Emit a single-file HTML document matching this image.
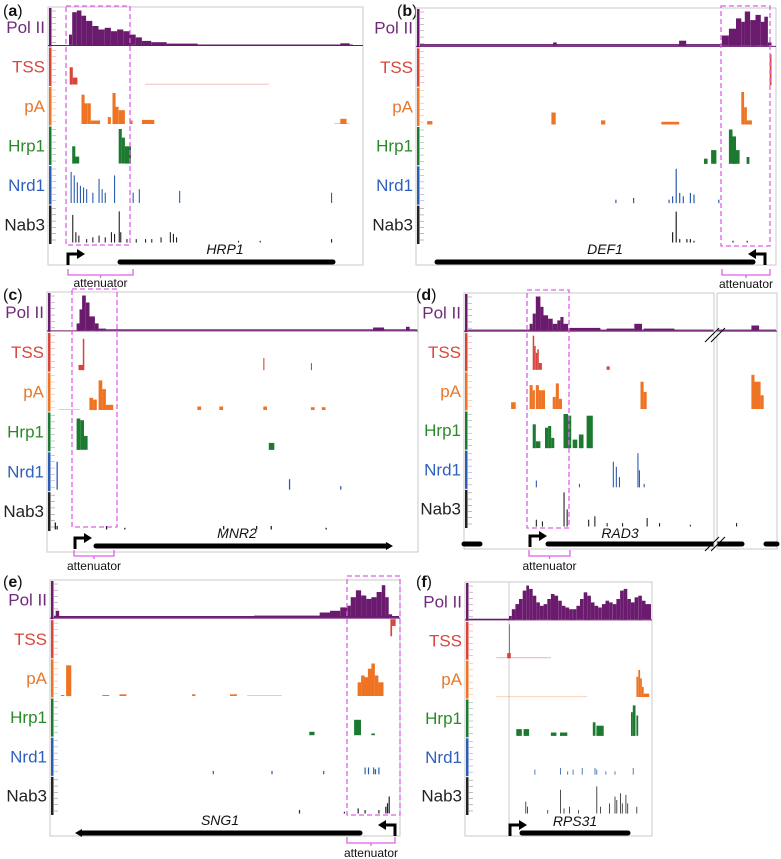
<!DOCTYPE html>
<html><head><meta charset="utf-8"><style>
html,body{margin:0;padding:0;background:#fff;}
svg{display:block;font-family:"Liberation Sans",sans-serif;}
</style></head><body>
<svg id="fig" width="781" height="859" viewBox="0 0 781 859" xmlns="http://www.w3.org/2000/svg"></svg>
<script>
// ---- data: peaks as [position(0-100 of window), relative height, width] ----
const aPol=[[5.5,0.3,1],[6.5,0.95,1.5],[8,1,1.5],[9.5,0.85,1.5],[11,0.7,2],[13,0.55,2],[15,0.45,2],[17,0.5,2],[19,0.4,2],[21,0.45,2],[23,0.4,2],[25,0.3,2],[27,0.22,2],[29,0.12,3],[32,0.08,5],[37,0.04,10],[47,0.015,50],[93,0.05,3]];
const aTss=[[5.7,0.5,1],[6.7,0.2,1.5],[30,0.02,40]];
const aPa=[[9.5,0.85,1],[10.5,0.6,1],[11.5,0.6,1],[12.5,0.1,3],[18,0.2,1],[19.5,0.9,1],[20.5,0.5,1],[21.5,0.4,2],[25,0.1,1],[29,0.12,4],[93,0.15,2],[91,0.03,5]];
const aHrp=[[6.5,0.5,1],[7.3,0.2,1.5],[21.5,1,1],[22.5,0.75,1],[23.5,0.5,2]];
const aNrd=[[6,0.9],[7,0.8],[8,0.6],[9,0.5],[10,0.45],[11,0.4],[13,0.3],[15,0.7],[16,0.4],[17,0.3],[20,0.8],[26,0.3],[28,0.4],[41,0.35],[90,0.3]];
const aNab=[[6.5,0.8],[7.5,0.3],[8.5,0.2],[11,0.1],[13,0.15],[15,0.2],[17,0.15],[19,0.3],[20,0.25],[21.5,0.9],[22,0.3],[24,0.1],[27,0.1],[30,0.1],[32,0.1],[35,0.15],[38,0.3],[39,0.25],[40,0.15],[60,0.05],[67,0.05],[90,0.1]];

const bPol=[[0,0.05,85],[37.5,0.1,1],[73,0.15,2],[85,0.3,2],[87,0.5,2],[89,0.8,1.5],[90.5,0.7,1],[91.5,1,1.5],[93,0.75,1.5],[94.5,0.9,1.5],[96,0.7,1.5],[97,0.85,1],[98,0.1,1]];
const bTss=[[98.5,0.9,0.5]];
const bPa=[[2,0.1,1.5],[37,0.35,1.2],[51,0.12,1.2],[68,0.08,5],[90.5,0.95,0.8],[91.3,0.5,0.8],[92,0.12,1.5]];
const bHrp=[[80,0.15,1],[82,0.4,1.5],[87,1,1],[88,0.8,1],[89,0.4,1],[92,0.2,0.8]];
const bNrd=[[55,0.1],[60,0.15],[70,0.1],[71,0.2],[72,1],[73,0.3],[74,0.2],[76,0.3],[77,0.25],[84,0.1]];
const bNab=[[71,0.3],[72,0.9],[73,0.1],[75,0.1],[76,0.1],[77,0.05],[88,0.05],[92,0.05]];

const cPol=[[7,0.2,1],[7.8,0.6,1],[8.5,1,1],[9.5,0.8,1],[10.5,0.4,1.5],[12,0.2,1],[13,0.05,2],[15,0.03,85],[88,0.08,3],[97,0.1,1]];
const cTss=[[8.7,0.9,0.4],[7.5,0.15,1.5],[58,0.35,0.3],[71,0.2,0.3]];
const cPa=[[2,0.03,6],[10.5,0.35,1],[11.5,0.3,1],[13,0.85,1],[14,0.6,1],[15,0.15,2],[40,0.1,1],[46,0.1,1],[58,0.1,1],[71,0.08,1],[74,0.08,1]];
const cHrp=[[7,0.9,1],[8,0.85,1],[9,0.4,1],[59.5,0.2,1.5]];
const cNrd=[[1.5,0.8],[65,0.3],[79,0.1]];
const cNab=[[1,0.2],[1.5,0.1],[15,0.1],[20,0.05],[47,0.1],[56,0.1],[60,0.1],[75,0.05]];

const dPol=[[0,0.03,100],[20,0.2,1],[21,0.5,1],[22,1,1.5],[23.5,0.7,1],[24.5,0.45,1.5],[26,0.35,1.5],[27.5,0.2,1.5],[29,0.3,1],[30,0.4,1],[31,0.2,1.5],[33,0.08,10],[45,0.06,9],[54,0.2,2.5],[57,0.06,10],[92,0.15,2.5]];
const dTss=[[21,1,0.5],[21.5,0.7,0.5],[22,0.5,0.5],[22.5,0.6,0.5],[23,0.2,1],[45,0.1,1]];
const dPa=[[14,0.2,1.5],[20,0.7,1],[21,0.55,0.7],[22,0.7,1],[23,0.55,1],[24,0.55,1],[27.5,0.35,1],[28.5,0.75,1],[29.5,0.3,1],[56,0.8,1],[57,0.5,1],[92,1,1],[93,0.8,1],[94,0.8,1],[95,0.4,1]];
const dHrp=[[21,0.7,1],[22,0.2,1.5],[25,0.6,1],[26,0.65,1],[27,0.3,1],[31,1,1.5],[32.5,0.95,1],[34,0.25,1.5],[36,0.4,1.5],[38.5,0.95,2]];
const dNrd=[[22,0.2],[36,0.1],[47,0.75],[48,0.6],[49,0.3],[55,1],[55.5,0.5],[57,0.1]];
const dNab=[[22,0.2],[24,0.15],[31,1],[32,0.5],[39,0.2],[41,0.3],[45,0.1],[50,0.1],[58,0.25],[62,0.1],[72,0.05],[87,0.1]];

const ePol=[[0,0.05,100],[0.5,0.2,1],[58,0.06,20],[77,0.15,3],[80,0.2,3],[83,0.3,2],[85,0.35,1],[86,0.6,1.5],[87.5,0.8,1.5],[89,0.65,1.5],[90.5,0.55,1.5],[92,0.6,1.5],[93.5,0.75,1.5],[95,0.95,1],[96,0.6,1],[97,0.1,1]];
const eTss=[[97.5,-0.5,0.5],[98,-0.2,1]];
const ePa=[[3.5,0.9,1.5],[2,0.03,1],[14,0.03,2],[19,0.05,2],[40,0.05,1],[51,0.05,2],[56,0.03,10],[88,0.4,1],[89,0.6,1],[90,0.55,1],[91,0.8,1.2],[92,0.95,1],[93,0.6,1],[94,0.4,1.5]];
const eHrp=[[74,0.1,1.5],[87,0.45,2],[92,0.05,1]];
const eNrd=[[46,0.1],[63,0.1],[78,0.1],[90,0.2],[91,0.2],[92.5,0.2],[93,0.15],[94,0.2]];
const eNab=[[71,0.1],[84,0.05],[88,0.15],[90,0.1],[94,0.1],[96,0.2],[97,0.5],[96.5,0.3]];

const fPol=[[0,0.02,22],[22,0.1,1.5],[23.5,0.3,2],[25.5,0.45,2],[27.5,0.6,2],[29.5,0.85,2],[31.5,1,1.5],[33,0.9,2],[35,0.7,2],[37,0.5,2],[39,0.4,2],[41,0.45,2],[43,0.6,2],[45,0.75,2],[47,0.7,2],[49,0.55,2],[51,0.4,2],[53,0.35,2],[55,0.3,2],[57,0.3,2],[59,0.4,2],[61,0.6,2],[63,0.8,2],[65,0.7,2],[67,0.5,2],[69,0.4,2],[71,0.35,2],[73,0.45,2],[75,0.55,2],[77,0.5,2],[79,0.45,2],[81,0.6,2],[83,0.85,2],[85,0.9,2],[87,0.6,2],[89,0.5,2],[91,0.65,2],[93,0.7,2],[95,0.55,2],[97,0.45,3]];
const fTss=[[22,1,0.5],[21,0.15,2],[15,0.03,30]];
const fPa=[[92,0.6,1],[93,0.8,1],[94,0.55,1],[95,0.3,1],[96,0.1,3],[15,0.02,50]];
const fHrp=[[26,0.2,3],[30,0.2,3],[45,0.1,3],[50,0.1,4],[68,0.4,1.5],[70,0.3,4],[89,0.7,1],[90,0.9,1.5],[92,0.6,1]];
const fNrd=[[36,0.15],[50,0.2],[54,0.1],[57,0.15],[62,0.2],[69,0.2],[70,0.15],[75,0.1],[80,0.1],[90,0.2]];
const fNab=[[31,0.35],[32,0.2],[43,0.1],[50,0.7],[52,0.15],[55,0.2],[60,0.1],[70,0.8],[72,0.2],[77,0.3],[80,0.5],[81,0.4],[83,0.6],[84,0.3],[86,0.55],[87,0.3],[92,0.2]];

const trackNames=["Pol II","TSS","pA","Hrp1","Nrd1","Nab3"];
const trackColors=["#6a1b6e","#d8433a","#ee7424","#1c7a30","#2c5cb0","#222222"];
const labelColors=["#6f2a7c","#d8463c","#e8782c","#2a8a2a","#2f5fc0","#222222"];

const NS="http://www.w3.org/2000/svg";
const svg=document.getElementById("fig");
function mk(p,tag,attrs){const e=document.createElementNS(NS,tag);for(const k in attrs)e.setAttribute(k,attrs[k]);p.appendChild(e);return e;}

const panels=[
 {id:"a",lx:3,ly:16,x0:48,x1:363,y0:7,y1:265,tracks:[aPol,aTss,aPa,aHrp,aNrd,aNab],dash:[66,130,6,245],gene:"HRP1",gx:225,gy:254,bars:[[120,333]],barY:262,head:0,prom:[68,1],br:[68,133,275,287]},
 {id:"b",lx:397,ly:16,x0:416,x1:776,y0:8,y1:265,tracks:[bPol,bTss,bPa,bHrp,bNrd,bNab],dash:[721,770,6,246],gene:"DEF1",gx:605,gy:254,bars:[[437,753]],barY:262,head:0,prom:[765,-1],br:[722,770,275,288]},
 {id:"c",lx:3,ly:300,x0:47,x1:418,y0:292,y1:552,tracks:[cPol,cTss,cPa,cHrp,cNrd,cNab],dash:[72,117,289,527],gene:"MNR2",gx:237,gy:538,bars:[[96,388]],barY:546,head:1,prom:[75,1],br:[74,114,556,570]},
 {id:"d",lx:416,ly:300,x0:464,x1:777,y0:293,y1:549,tracks:[dPol,dTss,dPa,dHrp,dNrd,dNab],dash:[527,569,290,528],gene:"RAD3",gx:620,gy:538,bars:[[464,480],[548,714],[717,742],[766,777]],barY:544,head:0,prom:[530,1],br:[529,570,556,570],brk:[714,717]},
 {id:"e",lx:3,ly:587,x0:50,x1:400,y0:580,y1:836,tracks:[ePol,eTss,ePa,eHrp,eNrd,eNab],dash:[347,400,576,815],gene:"SNG1",gx:220,gy:825,bars:[[80,360]],barY:833,head:-1,prom:[395,-1],br:[347,395,843,857]},
 {id:"f",lx:416,ly:587,x0:465,x1:652,y0:582,y1:836,tracks:[fPol,fTss,fPa,fHrp,fNrd,fNab],dash:null,gene:"RPS31",gx:575,gy:826,bars:[[522,628]],barY:833,head:0,prom:[510,1],br:null,vline:509}
];

panels.forEach(P=>{
 const g=mk(svg,"g",{});
 
 
 const letter=mk(g,"text",{x:P.lx,y:P.ly,"font-size":"16",fill:"#111"});
 
 
 letter.innerHTML='(<tspan font-weight="bold">'+P.id+'</tspan>)';
 const box=mk(g,"rect",{x:P.x0,y:P.y0,width:P.x1-P.x0,height:P.y1-P.y0,fill:"none",stroke:"#c8c8c8","stroke-width":"1"});
 
 
 const W=P.x1-P.x0;
 const th=(P.y1-P.y0-21)/6;
 const xs=v=>P.x0+4+v/100*(W-5);
 if(P.vline){const vl=mk(g,"line",{x1:P.vline,x2:P.vline,y1:P.y0,y2:P.y1-12,stroke:"#ccc","stroke-width":"1"});
  
  }
 P.tracks.forEach((data,i)=>{
  const top=P.y0+i*th, base=top+th-1.5, H=th-5;
  const col=trackColors[i];
  const ax=mk(g,"rect",{x:P.x0+1,y:top+1,width:2.5,height:th-1,fill:col});
  
  
  for(let t=0;t<6;t++){const tk=mk(g,"line",{x1:P.x0+4,x2:P.x0+8,y1:top+4+t*(th-8)/5,y2:top+4+t*(th-8)/5,stroke:col,"stroke-width":"0.5",opacity:"0.6"});
   
   }
  const lab=mk(g,"text",{x:P.x0-3,y:top+th/2+6,"text-anchor":"end","font-size":"17",fill:labelColors[i]});
  
  
  lab.textContent=trackNames[i];
  if(i===0){const bl=mk(g,"line",{x1:P.x0,x2:P.x1,y1:base+0.5,y2:base+0.5,stroke:col,"stroke-width":"1"});
   
   }
  data.forEach(d=>{
   const w=d.length>2?d[2]:0.35;
   const x=xs(d[0]), wp=Math.max(0.8,w/100*(W-5));
   let h=d[1]*H, y=base-h;
   if(h<0){h=-h;y=top;}
   h=Math.max(h,0.8);
   const faint=(i>0 && Math.abs(d[1])<0.04 && w>3);
   const r=mk(g,"rect",{x:x.toFixed(1),y:y.toFixed(1),width:wp.toFixed(1),height:h.toFixed(1),fill:col,opacity:faint?"0.4":"1"});
   
   
  });
 });
 P.bars.forEach(b=>{
  const gb=mk(g,"line",{x1:b[0],x2:b[1],y1:P.barY,y2:P.barY,stroke:"#000","stroke-width":"5","stroke-linecap":"round"});
  
  
 });
 if(P.head){const b=P.bars[0];const hx=P.head>0?b[1]:b[0];
  const hd=mk(g,"polygon",{points:`${hx+5*P.head},${P.barY} ${hx-2*P.head},${P.barY-4} ${hx-2*P.head},${P.barY+4}`,fill:"#000"});
  
  }
 const gl=mk(g,"text",{x:P.gx,y:P.gy,"text-anchor":"middle","font-size":"14","font-style":"italic",fill:"#111"});
 
 
 gl.textContent=P.gene;
 const px=P.prom[0],dir=P.prom[1],py=P.barY;
 const pr=mk(g,"path",{d:`M${px},${py+3} V${py-8} H${px+10*dir}`,stroke:"#000","stroke-width":"3",fill:"none"});
 
 
 const ph=mk(g,"polygon",{points:`${px+17*dir},${py-8} ${px+9*dir},${py-13} ${px+9*dir},${py-3}`,fill:"#000"});
 
 
 if(P.brk){
  const bw=mk(g,"rect",{x:P.brk[0],y:P.y0-1,width:P.brk[1]-P.brk[0],height:P.y1-P.y0+2,fill:"#fff"});
  
  
  [[P.brk[0],P.brk[0]],[P.brk[1],P.brk[1]]].forEach(v=>{const l=mk(g,"line",{x1:v[0],x2:v[0],y1:P.y0,y2:P.y1,stroke:"#c8c8c8"});
   
   });
  [P.y0+42,P.barY].forEach(yy=>{[-3,3].forEach(o=>{const s=mk(g,"line",{x1:P.brk[0]-6+o,y1:yy+7,x2:P.brk[0]+8+o,y2:yy-7,stroke:"#000","stroke-width":"1"});
   
   });});
 }
 if(P.dash){const D=P.dash;
  const dr=mk(g,"rect",{x:D[0],y:D[2],width:D[1]-D[0],height:D[3]-D[2],fill:"none",stroke:"#e060e8","stroke-width":"1.3","stroke-dasharray":"5,3"});
  
  }
 if(P.br){const B=P.br,m=(B[0]+B[1])/2;
  const bp=mk(g,"path",{d:`M${B[0]},${B[2]-6} V${B[2]} H${B[1]} V${B[2]-6} M${m},${B[2]} V${B[2]+3}`,stroke:"#e060e8","stroke-width":"1.3",fill:"none"});
  
  
  const at=mk(g,"text",{x:m,y:B[3],"text-anchor":"middle","font-size":"12",fill:"#111"});
  
  
  at.textContent="attenuator";}
});
</script>
</body></html>
